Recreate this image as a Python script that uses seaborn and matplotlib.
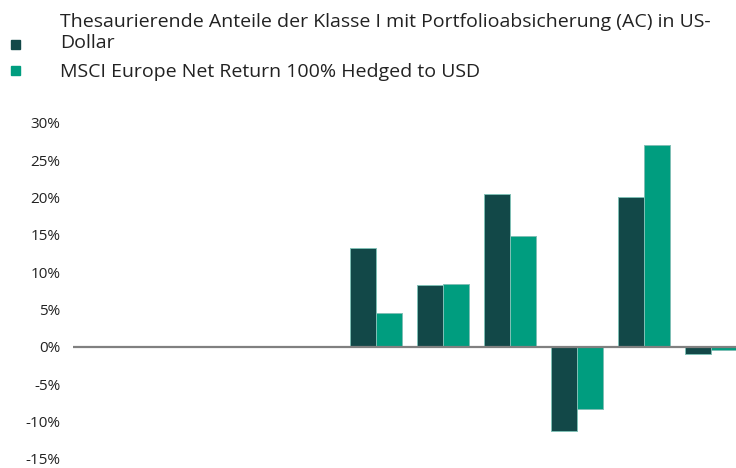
import pandas as pd
import matplotlib
matplotlib.use("Agg")
import matplotlib.pyplot as plt
from matplotlib.patches import Rectangle
import seaborn as sns

# ---------------------------
# Data
# ---------------------------
years = ["2014", "2015", "2016", "2017", "2018", "2019", "2020", "2021", "2022", "2023"]
fund_ac = [None, None, None, None, 13.2, 8.3, 20.5, -11.2, 20.1, -0.9]
msci_hedged = [None, None, None, None, 4.5, 8.5, 14.9, -8.3, 27.0, -0.4]
series_names = [
    "Thesaurierende Anteile der Klasse I mit Portfolioabsicherung (AC) in US-Dollar",
    "MSCI Europe Net Return 100% Hedged to USD",
]
yticks = [-15, -10, -5, 0, 5, 10, 15, 20, 25, 30]

colors = {series_names[0]: "#124848", series_names[1]: "#009D7F"}

df = pd.DataFrame({
    "Jahr": years * 2,
    "Serie": [series_names[0]] * len(years) + [series_names[1]] * len(years),
    "Wert": fund_ac + msci_hedged,
})

# ---------------------------
# Plot
# ---------------------------
sns.set_style("white")
plt.rcParams["font.family"] = ["Open Sans", "DejaVu Sans"]

fig = plt.figure(figsize=(7.36, 4.68), dpi=100)
ax = fig.add_axes([73 / 736, 1 - 459 / 468, 1 - 73 / 736, (459 - 123) / 468])

sns.barplot(
    data=df, x="Jahr", y="Wert", hue="Serie", order=years,
    hue_order=series_names, palette=colors, width=0.78, saturation=1,
    edgecolor="#7fbfb5", linewidth=0.7, ax=ax, legend=False,
)

ax.axhline(0, color="#808080", lw=1.6, zorder=5)
ax.set_ylim(-15, 30)
ax.set_xlim(-0.52, 9.37)
ax.set_yticks(yticks)
ax.set_yticklabels([f"{v}%" for v in yticks], fontsize=11, color="#222222")
ax.tick_params(axis="y", length=0, pad=9)
ax.set_xticks([])
ax.set_xlabel("")
ax.set_ylabel("")
for s in ax.spines.values():
    s.set_visible(False)

# legend drawn by hand to mimic the stacked layout (first label wraps)
fig.patches.append(Rectangle((11 / 736, 1 - 49 / 468), 9 / 736, 9 / 468,
                             transform=fig.transFigure, color=colors[series_names[0]]))
fig.patches.append(Rectangle((11 / 736, 1 - 75 / 468), 9 / 736, 9 / 468,
                             transform=fig.transFigure, color=colors[series_names[1]]))
line1, line2 = series_names[0].split("US-")
fig.text(60 / 736, 1 - 27 / 468, line1 + "US-", fontsize=14, color="#222222",
         va="baseline", ha="left")
fig.text(60 / 736, 1 - 48 / 468, line2, fontsize=14, color="#222222",
         va="baseline", ha="left")
fig.text(60 / 736, 1 - 77 / 468, series_names[1], fontsize=14, color="#222222",
         va="baseline", ha="left")

fig.savefig("out.png", dpi=100)
